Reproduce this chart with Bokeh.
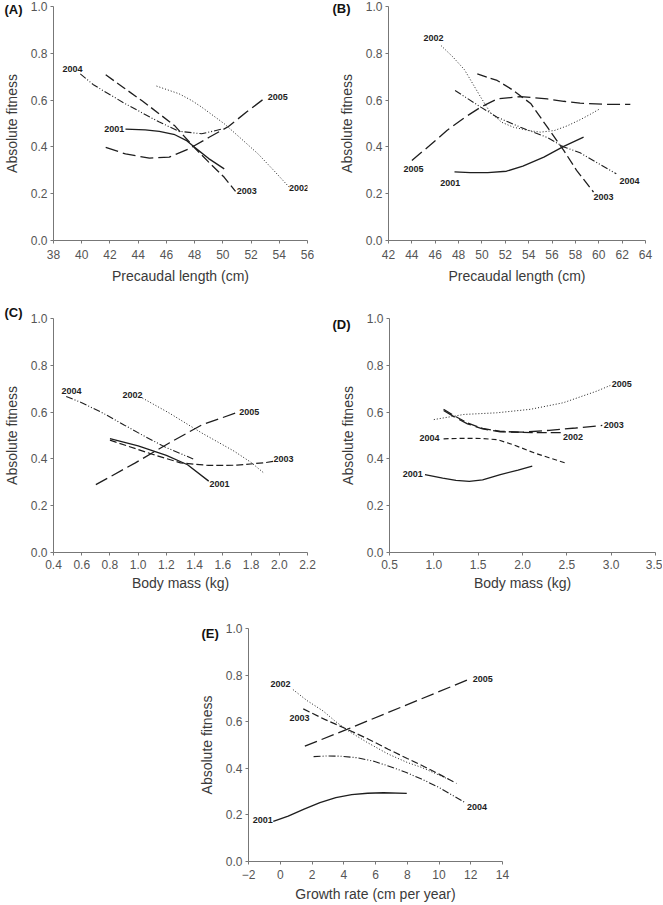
from bokeh.plotting import figure
from bokeh.layouts import column, row, Spacer
from bokeh.models import Range1d, FixedTicker, PrintfTickFormatter, Label
from bokeh.embed import file_html
from bokeh.resources import INLINE

# ---------------- data ----------------
Y_TICKS = [0.0, 0.2, 0.4, 0.6, 0.8, 1.0]

# Panel A : precaudal length (cm)
A_XTICKS = [38, 40, 42, 44, 46, 48, 50, 52, 54, 56]
A2001_X = [43.1, 44.5, 45.5, 46.6, 47.4, 48.0, 49.0, 50.1]
A2001_Y = [0.476, 0.473, 0.466, 0.452, 0.428, 0.398, 0.350, 0.306]
A2002_X = [45.3, 46.9, 47.8, 48.5, 50.1, 51.3, 52.5, 53.6, 54.7]
A2002_Y = [0.660, 0.627, 0.598, 0.570, 0.499, 0.435, 0.370, 0.300, 0.228]
A2003_X = [41.7, 43.0, 44.3, 45.5, 46.6, 48.0, 49.0, 50.1, 50.9]
A2003_Y = [0.708, 0.652, 0.596, 0.541, 0.490, 0.396, 0.335, 0.270, 0.210]
A2004_X = [39.9, 40.8, 41.5, 43.1, 44.3, 45.5, 46.9, 48.5, 50.0]
A2004_Y = [0.712, 0.667, 0.641, 0.584, 0.545, 0.506, 0.467, 0.456, 0.477]
A2005_X = [41.7, 43.1, 44.8, 46.2, 47.6, 49.0, 50.4, 51.7, 52.9]
A2005_Y = [0.398, 0.370, 0.352, 0.356, 0.392, 0.440, 0.487, 0.550, 0.605]
A_LAB_TEXT = ["2004", "2001", "2005", "2003", "2002"]
A_LAB_X = [39.35, 42.3, 53.9, 51.7, 55.4]
A_LAB_Y = [0.731, 0.477, 0.613, 0.211, 0.225]

# Panel B : precaudal length (cm)
B_XTICKS = [42, 44, 46, 48, 50, 52, 54, 56, 58, 60, 62, 64]
B2001_X = [47.65, 49.0, 50.5, 52.1, 53.5, 55.3, 57.0, 58.7]
B2001_Y = [0.293, 0.290, 0.290, 0.296, 0.318, 0.356, 0.402, 0.442]
B2002_X = [46.5, 47.5, 48.5, 49.9, 50.7, 51.7, 52.7, 54.0, 55.0, 56.2, 57.3, 58.4, 59.3, 60.1]
B2002_Y = [0.833, 0.785, 0.730, 0.612, 0.548, 0.505, 0.484, 0.470, 0.463, 0.470, 0.490, 0.516, 0.540, 0.563]
B2003_X = [49.6, 51.3, 52.7, 54.2, 55.6, 57.0, 58.1, 59.55]
B2003_Y = [0.712, 0.684, 0.641, 0.584, 0.484, 0.385, 0.300, 0.207]
B2004_X = [47.7, 49.9, 51.3, 53.3, 55.6, 57.0, 58.4, 60.0, 61.5]
B2004_Y = [0.641, 0.570, 0.527, 0.484, 0.440, 0.400, 0.375, 0.328, 0.285]
B2005_X = [44.0, 45.5, 47.0, 48.5, 49.9, 51.3, 53.3, 55.6, 57.0, 58.4, 60.5, 62.7]
B2005_Y = [0.342, 0.405, 0.470, 0.525, 0.570, 0.605, 0.615, 0.605, 0.595, 0.587, 0.582, 0.582]
B_LAB_TEXT = ["2002", "2005", "2001", "2003", "2004"]
B_LAB_X = [45.85, 44.14, 47.28, 60.4, 62.63]
B_LAB_Y = [0.865, 0.306, 0.245, 0.188, 0.254]

# Panel C : body mass (kg)
C_XTICKS = [0.4, 0.6, 0.8, 1.0, 1.2, 1.4, 1.6, 1.8, 2.0, 2.2]
C2001_X = [0.80, 1.00, 1.20, 1.35, 1.50]
C2001_Y = [0.487, 0.456, 0.415, 0.375, 0.305]
C2002_X = [1.03, 1.22, 1.45, 1.68, 1.80, 1.89]
C2002_Y = [0.660, 0.596, 0.511, 0.433, 0.385, 0.340]
C2003_X = [0.80, 1.00, 1.10, 1.30, 1.50, 1.70, 1.90, 1.96]
C2003_Y = [0.480, 0.440, 0.420, 0.383, 0.372, 0.373, 0.384, 0.390]
C2004_X = [0.49, 0.60, 0.75, 0.90, 1.05, 1.20, 1.39]
C2004_Y = [0.667, 0.640, 0.596, 0.545, 0.495, 0.448, 0.400]
C2005_X = [0.70, 0.98, 1.22, 1.45, 1.70]
C2005_Y = [0.290, 0.383, 0.468, 0.545, 0.598]
C_LAB_TEXT = ["2004", "2002", "2005", "2003", "2001"]
C_LAB_X = [0.528, 0.96, 1.787, 2.03, 1.577]
C_LAB_Y = [0.692, 0.674, 0.599, 0.400, 0.294]

# Panel D : body mass (kg)
D_XTICKS = [0.5, 1.0, 1.5, 2.0, 2.5, 3.0, 3.5]
D2001_X = [0.90, 1.10, 1.25, 1.40, 1.55, 1.75, 1.95, 2.11]
D2001_Y = [0.333, 0.318, 0.308, 0.304, 0.310, 0.333, 0.352, 0.369]
D2002_X = [1.11, 1.25, 1.38, 1.55, 1.75, 2.00, 2.25, 2.45]
D2002_Y = [0.612, 0.580, 0.554, 0.530, 0.518, 0.513, 0.512, 0.512]
D2003_X = [1.11, 1.25, 1.38, 1.55, 1.75, 2.00, 2.30, 2.60, 2.90]
D2003_Y = [0.607, 0.575, 0.550, 0.528, 0.516, 0.514, 0.522, 0.532, 0.543]
D2004_X = [1.11, 1.35, 1.55, 1.72, 1.90, 2.13, 2.30, 2.48]
D2004_Y = [0.486, 0.488, 0.487, 0.482, 0.460, 0.426, 0.405, 0.383]
D2005_X = [1.00, 1.34, 1.71, 2.09, 2.46, 2.84, 2.99]
D2005_Y = [0.568, 0.590, 0.597, 0.612, 0.640, 0.690, 0.714]
D_LAB_TEXT = ["2001", "2004", "2002", "2003", "2005"]
D_LAB_X = [0.763, 0.952, 2.57, 3.03, 3.12]
D_LAB_Y = [0.337, 0.491, 0.492, 0.543, 0.718]

# Panel E : growth rate (cm per year)
E_XTICKS = [-2, 0, 2, 4, 6, 8, 10, 12, 14]
E2001_X = [-0.44, 0.5, 1.5, 2.5, 3.5, 4.5, 5.5, 6.5, 7.97]
E2001_Y = [0.172, 0.195, 0.225, 0.253, 0.274, 0.287, 0.293, 0.295, 0.292]
E2002_X = [0.8, 1.7, 2.7, 3.5, 4.3, 5.5, 6.8, 8.0, 8.9, 10.6]
E2002_Y = [0.738, 0.690, 0.646, 0.600, 0.560, 0.510, 0.461, 0.425, 0.404, 0.353]
E2003_X = [1.45, 2.8, 4.1, 5.5, 6.8, 8.0, 8.9, 10.0, 11.1]
E2003_Y = [0.655, 0.610, 0.571, 0.527, 0.482, 0.442, 0.413, 0.375, 0.335]
E2004_X = [2.1, 3.0, 3.8, 4.9, 5.9, 6.8, 7.9, 8.9, 10.0, 11.6]
E2004_Y = [0.450, 0.453, 0.452, 0.445, 0.430, 0.410, 0.383, 0.354, 0.318, 0.255]
E2005_X = [1.55, 4.2, 12.0]
E2005_Y = [0.495, 0.567, 0.785]
E_LAB_TEXT = ["2002", "2003", "2005", "2004", "2001"]
E_LAB_X = [0.02, 1.22, 12.75, 12.4, -1.1]
E_LAB_Y = [0.762, 0.616, 0.782, 0.236, 0.178]

# ---------------- styling ----------------
FONT = "Liberation Sans"
INK = "#1e1e1e"
AXIS_C = "#777777"
TICK_TXT = "#555555"
TITLE_TXT = "#3a3a3a"

SOLID = ("solid", 1.3)
DOT = ("1 2", 1.0)
LDASH = ("10 4", 1.3)
LLDASH = ("13 5", 1.3)
DDOT = ("7 2 1 2 1 2", 1.1)
MDASH = ("7 3", 1.2)
SDASH = ("5 3", 1.2)


def panel(series, styles, lab_text, lab_x, lab_y, xr, xticks, xfmt, xlabel,
          letter, letter_off, letter_stand, width, height, bl, br, bt, bb,
          tick_standoff, title_standoff, overrides=None):
    p = figure(width=width, height=height, x_range=Range1d(*xr),
               y_range=Range1d(0, 1), output_backend="svg",
               toolbar_location=None, min_border_left=bl, min_border_right=br,
               min_border_top=bt, min_border_bottom=bb)
    p.xgrid.visible = False
    p.ygrid.visible = False
    p.outline_line_color = None
    p.background_fill_color = "white"
    p.border_fill_color = "white"
    for (xs, ys), (dash, w) in zip(series, styles):
        p.line(xs, ys, line_color=INK, line_width=w, line_dash=dash)

    for ax in (p.xaxis[0], p.yaxis[0]):
        ax.axis_line_color = AXIS_C
        ax.major_tick_line_color = AXIS_C
        ax.minor_tick_line_color = None
        ax.major_tick_out = 3
        ax.major_tick_in = 0
        ax.major_label_text_font = FONT
        ax.major_label_text_font_size = "12px"
        ax.major_label_text_color = TICK_TXT
        ax.axis_label_text_font = FONT
        ax.axis_label_text_font_size = "14px"
        ax.axis_label_text_font_style = "normal"
        ax.axis_label_text_color = TITLE_TXT

    p.xaxis.ticker = FixedTicker(ticks=xticks)
    p.xaxis.formatter = PrintfTickFormatter(format=xfmt)
    p.xaxis.major_label_standoff = tick_standoff
    p.xaxis.axis_label = xlabel
    p.xaxis.axis_label_standoff = title_standoff
    if overrides:
        p.xaxis.major_label_overrides = overrides

    p.yaxis.ticker = FixedTicker(ticks=Y_TICKS)
    p.yaxis.formatter = PrintfTickFormatter(format="%.1f")
    p.yaxis.major_label_standoff = 3
    p.yaxis.axis_label = "Absolute fitness"
    p.yaxis.axis_label_standoff = 8

    for t, x, y in zip(lab_text, lab_x, lab_y):
        p.add_layout(Label(x=x, y=y, text=t, text_font=FONT,
                           text_font_size="9px", text_font_style="bold",
                           text_color=INK, text_align="center",
                           text_baseline="middle"))

    # panel letter drawn as the figure title (side panel, not clipped)
    p.title.text = letter
    p.title.align = "left"
    p.title.vertical_align = "bottom"
    p.title.offset = letter_off
    p.title.standoff = letter_stand
    p.title.text_font = FONT
    p.title.text_font_size = "13px"
    p.title.text_font_style = "bold"
    p.title.text_color = "#111111"
    return p


pA = panel([(A2001_X, A2001_Y), (A2002_X, A2002_Y), (A2003_X, A2003_Y),
            (A2004_X, A2004_Y), (A2005_X, A2005_Y)],
           [SOLID, DOT, LDASH, DDOT, LLDASH],
           A_LAB_TEXT, A_LAB_X, A_LAB_Y, (38, 56), A_XTICKS, "%d",
           "Precaudal length (cm)", "(A)", -49, -21,
           332, 300, 50, 25, 6, 60, 6, 6)

pB = panel([(B2001_X, B2001_Y), (B2002_X, B2002_Y), (B2003_X, B2003_Y),
            (B2004_X, B2004_Y), (B2005_X, B2005_Y)],
           [SOLID, DOT, LDASH, DDOT, LLDASH],
           B_LAB_TEXT, B_LAB_X, B_LAB_Y, (42, 64), B_XTICKS, "%d",
           "Precaudal length (cm)", "(B)", -56, -19,
           330, 300, 56, 17, 6, 60, 6, 6)

pC = panel([(C2001_X, C2001_Y), (C2002_X, C2002_Y), (C2003_X, C2003_Y),
            (C2004_X, C2004_Y), (C2005_X, C2005_Y)],
           [SOLID, DOT, MDASH, DDOT, LLDASH],
           C_LAB_TEXT, C_LAB_X, C_LAB_Y, (0.4, 2.2), C_XTICKS, "%.1f",
           "Body mass (kg)", "(C)", -49, -3,
           332, 300, 50, 25, 18, 48, 4, 3)

pD = panel([(D2001_X, D2001_Y), (D2002_X, D2002_Y), (D2003_X, D2003_Y),
            (D2004_X, D2004_Y), (D2005_X, D2005_Y)],
           [SOLID, LDASH, LLDASH, SDASH, DOT],
           D_LAB_TEXT, D_LAB_X, D_LAB_Y, (0.5, 3.5), D_XTICKS, "%.1f",
           "Body mass (kg)", "(D)", -57, -27,
           330, 300, 57, 7, 18, 48, 4, 3)

pE = panel([(E2001_X, E2001_Y), (E2002_X, E2002_Y), (E2003_X, E2003_Y),
            (E2004_X, E2004_Y), (E2005_X, E2005_Y)],
           [SOLID, DOT, MDASH, DDOT, LLDASH],
           E_LAB_TEXT, E_LAB_X, E_LAB_Y, (-2, 14), E_XTICKS, "%d",
           "Growth rate (cm per year)", "(E)", -47, -25,
           337, 304, 50, 30, 28, 42, 5, 4, overrides={-2: "\u22122"})

layout = column(row(pA, pB), row(pC, pD), row(Spacer(width=195, height=10), pE))

open("out.html", "w").write(file_html(layout, INLINE))
